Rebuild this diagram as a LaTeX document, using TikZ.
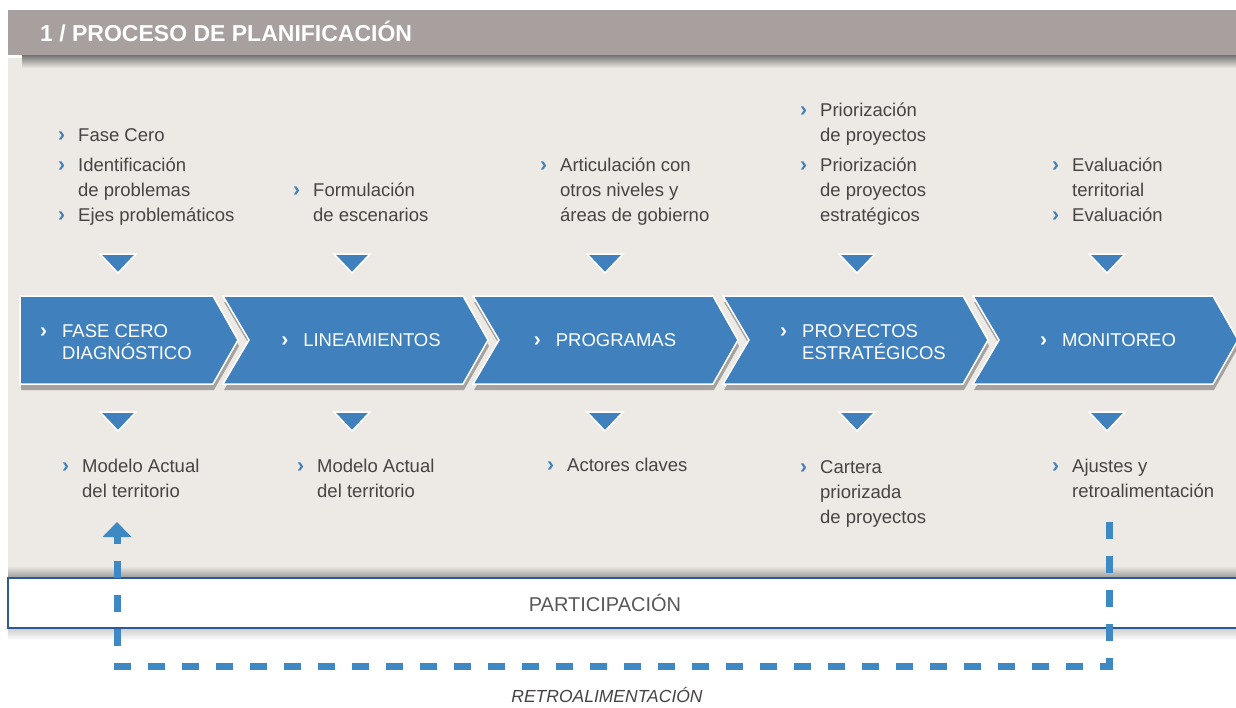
\documentclass[tikz,border=0pt]{standalone}
\usepackage{fontspec}
\setmainfont{Liberation Sans}
\usetikzlibrary{positioning,fit,arrows.meta,shadows}
\definecolor{headgray}{RGB}{168,160,158}
\definecolor{panel}{RGB}{237,233,229}
\definecolor{chevblue}{RGB}{64,129,189}
\definecolor{txtgray}{RGB}{72,68,68}
\definecolor{boxblue}{RGB}{45,88,150}
\definecolor{dashblue}{RGB}{62,136,196}
\newcommand{\bul}{\makebox[20pt][l]{\textcolor{chevblue}{\fontsize{21}{21}\selectfont\bfseries ›}}}
\newcommand{\ind}{\hspace*{20pt}}
\newcommand{\chv}{\makebox[22pt][l]{\fontsize{21}{21}\selectfont\bfseries ›}}
\newcommand{\chind}{\hspace*{22pt}}

\begin{document}
\begin{tikzpicture}[x=1pt,y=-1pt,every node/.style={inner sep=0pt},
    bodytext/.style={font=\fontsize{18.5}{25}\selectfont,text=txtgray,align=left,anchor=base west},
    chevtext/.style={font=\fontsize{18.5}{22}\selectfont,text=white,align=left},
    chev/.style={fill=chevblue,draw=white,line width=1.5pt,
      drop shadow={shadow xshift=1pt,shadow yshift=-6pt,opacity=0.3,fill=black}},
    tri/.style={fill=chevblue,draw=white,line width=1.5pt},
    feedback/.style={draw=dashblue,line width=7pt,dash pattern=on 17pt off 17pt,
      -{Triangle[width=28pt,length=15pt]}}]
  \useasboundingbox (0,0) rectangle (1236,707);
  \fill[white] (0,0) rectangle (1236,707);
  \fill[panel] (8,58) rectangle (1236,572);
  \shade[top color=black!55,bottom color=panel] (22,55) rectangle (1236,68);
  \fill[headgray] (8,10) rectangle (1236,55);
  \node[anchor=west,text=white,font=\fontsize{23}{23}\selectfont\bfseries] (title)
  at (40,32) {1 / PROCESO DE PLANIFICACIÓN};

  % participacion
  \shade[top color=panel,bottom color=black!40] (8,566) rectangle (1236,578);
  \shade[top color=black!20,bottom color=white] (8,628) rectangle (1236,640);
  \node[fit={(8,578) (1240,628)},inner sep=0pt,draw=boxblue,line width=1.5pt,fill=white]
  (part) {}; \node[text=black!65,font=\fontsize{20}{20}\selectfont] (parttext) at
  (605,0 |- part.center) {PARTICIPACIÓN};

  % chevrones
  \draw[chev] (20,296) -- (213,296) -- (238,340) -- (213,384) -- (20,384) -- cycle;
  \foreach \i in {1,...,4} {
    \pgfmathsetmacro\L{223+250*(\i-1)}
    \draw[chev] (\L,296) -- (\L+240,296) -- (\L+265,340) -- (\L+240,384) --
    (\L,384) -- (\L+26,340) -- cycle;
  }
  \node[chevtext,anchor=west] (fase) at (40,342) {\chv FASE CERO\\\chind DIAGNÓSTICO};
  \node[chevtext] (linea) at (361,340) {\chv LINEAMIENTOS};
  \node[chevtext] (prog) at (605,340) {\chv PROGRAMAS};
  \node[chevtext,anchor=west] (proy) at (780,342) {\chv PROYECTOS\\\chind ESTRATÉGICOS};
  \node[chevtext] (moni) at (1108,340) {\chv MONITOREO};

  \foreach \x in {118,352,605,857,1107} {
    \draw[tri] (\x-18,254) -- (\x+18,254) -- (\x,273) -- cycle;
    \draw[tri] (\x-18,412) -- (\x+18,412) -- (\x,431) -- cycle;
  }

  % textos de arriba (anclados en la ultima linea)
  \node[bodytext] (top1) at (58,221) {\bul Fase Cero\\[5pt]\bul Identificación\\\ind de
    problemas\\\bul Ejes problemáticos};
  \node[bodytext] (top2) at (293,221) {\bul Formulación\\\ind de escenarios};
  \node[bodytext] (top3) at (540,221) {\bul Articulación con\\\ind otros niveles y\\\ind
    áreas de gobierno};
  \node[bodytext] (top4) at (800,221) {\bul Priorización\\\ind de proyectos\\[5pt]\bul
    Priorización\\\ind de proyectos\\\ind estratégicos};
  \node[bodytext] (top5) at (1052,221) {\bul Evaluación\\\ind territorial\\\bul
    Evaluación};

  % textos de abajo
  \begin{scope}[every node/.append style={font=\fontsize{18.5}{26}\selectfont}]
    \node[bodytext] (bot1) at (62,497) {\bul Modelo Actual\\\ind del territorio};
    \node[bodytext] (bot2) at (297,497) {\bul Modelo Actual\\\ind del territorio};
    \node[bodytext] (bot3) at (547,471) {\bul Actores claves};
    \node[bodytext] (bot4) at (800,523) {\bul Cartera\\\ind priorizada\\\ind de proyectos};
    \node[bodytext] (bot5) at (1052,497) {\bul Ajustes y\\\ind retroalimentación};
  \end{scope}

  % retroalimentacion
  \coordinate (fbA) at (1109,522); \coordinate (fbB) at (117,522);
  \coordinate (fbC) at (607,666);
  \draw[feedback] (fbA) |- (fbC) -| (fbB);
  \node[text=txtgray,font=\fontsize{17.5}{17.5}\selectfont\itshape] (retro) at
  (607,695) {RETROALIMENTACIÓN};
\end{tikzpicture}
\end{document}
